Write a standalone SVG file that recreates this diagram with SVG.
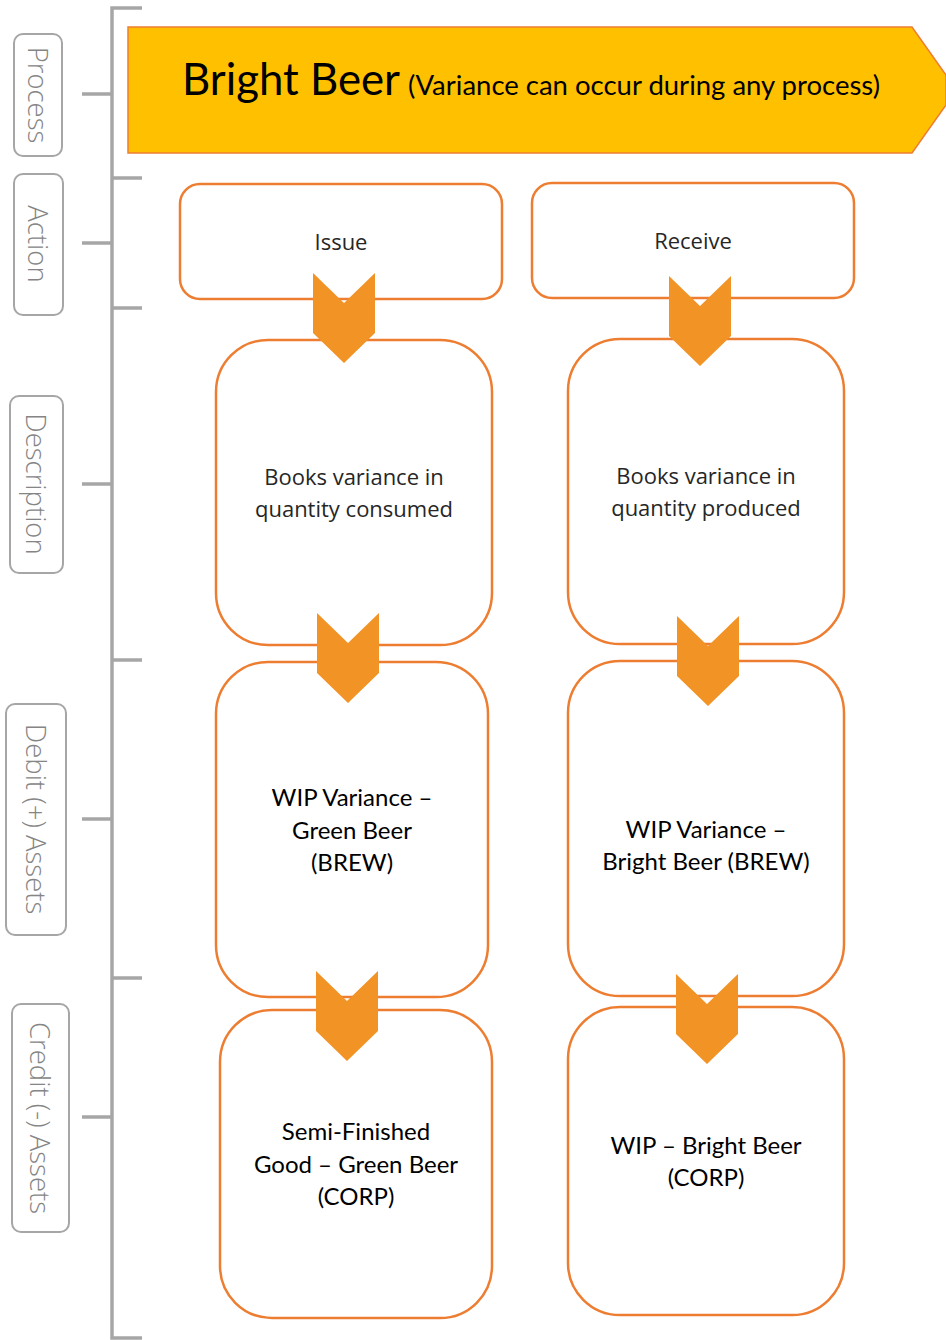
<svg xmlns="http://www.w3.org/2000/svg" width="946" height="1340" viewBox="0 0 946 1340">
<style>
.lbl{fill:#fff;stroke:#a6a6a6;stroke-width:2}
.lt{font-family:"Open Sans","DejaVu Sans",sans-serif;font-size:27.5px;font-weight:300;fill:#858585;text-anchor:middle;dominant-baseline:central}
.br{fill:none;stroke:#a6a6a6;stroke-width:3.5}
.box{fill:#fff;stroke:#ED7D31;stroke-width:2.5}
.st{font-family:"Open Sans","DejaVu Sans",sans-serif;font-size:22px;fill:#262626;text-anchor:middle}
.bt{font-family:Lato,"Liberation Sans",sans-serif;font-size:24px;fill:#000;text-anchor:middle}
.chev{fill:#F29326}
</style>
<rect width="946" height="1340" fill="#fff"/>
<g id="bracket">
<path class="br" d="M142 8H112V1338H142M112 178H142M112 308H142M112 660H142M112 978H142M82 94H112M82 243H112M82 484H112M82 819H112M82 1117H112"/>
</g>
<g id="lbl-process"><rect class="lbl" x="14" y="34" width="48" height="122" rx="9"/><text class="lt" transform="translate(38 95) rotate(90)">Process</text></g>
<g id="lbl-action"><rect class="lbl" x="14" y="174" width="49" height="141" rx="9"/><text class="lt" transform="translate(38.5 244) rotate(90)">Action</text></g>
<g id="lbl-description"><rect class="lbl" x="10" y="396" width="53" height="177" rx="9"/><text class="lt" transform="translate(36.5 484) rotate(90)">Description</text></g>
<g id="lbl-debit"><rect class="lbl" x="6" y="704" width="60" height="231" rx="9"/><text class="lt" transform="translate(36 819) rotate(90)">Debit (+) Assets</text></g>
<g id="lbl-credit"><rect class="lbl" x="12" y="1004" width="57" height="228" rx="9"/><text class="lt" transform="translate(40.5 1118) rotate(90)">Credit (-) Assets</text></g>
<g id="banner">
<polygon points="128,27 912,27 946,75 946,105 912,153 128,153" fill="#FFC000" stroke="#ED7D31" stroke-width="1.5"/>
<text x="182" y="95" font-family="Lato,'Liberation Sans',sans-serif" fill="#000"><tspan font-size="44" textLength="218" lengthAdjust="spacingAndGlyphs">Bright Beer</tspan><tspan x="408" font-size="26" textLength="472" lengthAdjust="spacingAndGlyphs">(Variance can occur during any process)</tspan></text>
</g>
<g id="issue"><rect class="box" x="180" y="184" width="322" height="115" rx="20"/><text class="st" x="341" y="250">Issue</text></g>
<g id="receive"><rect class="box" x="532" y="183" width="322" height="115" rx="20"/><text class="st" x="693" y="249">Receive</text></g>
<g id="desc-left"><rect class="box" x="216" y="340" width="276" height="305" rx="52"/><text class="st" x="354" y="485">Books variance in</text><text class="st" x="354" y="517">quantity consumed</text></g>
<g id="desc-right"><rect class="box" x="568" y="339" width="276" height="305" rx="52"/><text class="st" x="706" y="484">Books variance in</text><text class="st" x="706" y="516">quantity produced</text></g>
<g id="debit-left"><rect class="box" x="216" y="662" width="272" height="335" rx="52"/><text class="bt" x="352" y="806">WIP Variance –</text><text class="bt" x="352" y="839">Green Beer</text><text class="bt" x="352" y="871">(BREW)</text></g>
<g id="debit-right"><rect class="box" x="568" y="661" width="276" height="335" rx="52"/><text class="bt" x="706" y="838">WIP Variance –</text><text class="bt" x="706" y="870">Bright Beer (BREW)</text></g>
<g id="credit-left"><rect class="box" x="220" y="1010" width="272" height="308" rx="52"/><text class="bt" x="356" y="1140">Semi-Finished</text><text class="bt" x="356" y="1173">Good – Green Beer</text><text class="bt" x="356" y="1205">(CORP)</text></g>
<g id="credit-right"><rect class="box" x="568" y="1007" width="276" height="308" rx="52"/><text class="bt" x="706" y="1154">WIP – Bright Beer</text><text class="bt" x="706" y="1186">(CORP)</text></g>
<g id="connectors">
<polygon class="chev" points="313,273 344,303 375,273 375,333 344,363 313,333"/>
<polygon class="chev" points="669,276 700,306 731,276 731,336 700,366 669,336"/>
<polygon class="chev" points="317,613 348,643 379,613 379,673 348,703 317,673"/>
<polygon class="chev" points="677,616 708,646 739,616 739,676 708,706 677,676"/>
<polygon class="chev" points="316,971 347,1001 378,971 378,1031 347,1061 316,1031"/>
<polygon class="chev" points="676,974 707,1004 738,974 738,1034 707,1064 676,1034"/>
</g>
</svg>
